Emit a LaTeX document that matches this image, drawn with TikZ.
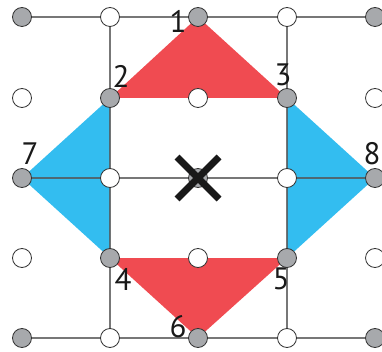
\documentclass[tikz,border=0pt]{standalone}
\usepackage{fontspec}
\setmainfont{PT Sans}
\usetikzlibrary{calc}
\definecolor{redfill}{HTML}{F04B51}
\definecolor{bluefill}{HTML}{33BDF0}
\definecolor{dotgray}{HTML}{A7A9AC}
\definecolor{gridline}{HTML}{555555}
\tikzset{
  gdot/.style={circle,draw=black!80,line width=0.8pt,fill=dotgray,minimum size=19pt,inner sep=0pt},
  wdot/.style={circle,draw=black!80,line width=0.8pt,fill=white,minimum size=19pt,inner sep=0pt},
  grid/.style={draw=gridline,line width=1.1pt},
  lbl/.style={font=\fontsize{31}{31}\selectfont,text=black!90,inner sep=0pt},
  crossline/.style={draw=black!90,line width=7pt},
}
\begin{document}
\begin{tikzpicture}[x=1pt,y=-1pt]
\useasboundingbox (0,0) rectangle (382,352);
% coordinates of grid points
\foreach \i/\y in {1/17,2/98,3/178,4/258,5/338}{
  \foreach \j/\x in {1/22,2/110,3/198,4/287,5/375}{
    \coordinate (p\i\j) at (\x,\y);
  }
}
% triangles
\fill[redfill] (p13) -- (p22) -- (p24) -- cycle;
\fill[redfill] (p42) -- (p44) -- (p53) -- cycle;
\fill[bluefill] (p31) -- (p22) -- (p42) -- cycle;
\fill[bluefill] (p35) -- (p24) -- (p44) -- cycle;
% grid lines
\draw[grid,opacity=0.8] (p11) -- (p15);
\draw[grid,opacity=0.8] (p31) -- (p35);
\draw[grid,opacity=0.8] (p51) -- (p55);
\draw[grid,opacity=0.8] (p12) -- (p52);
\draw[grid,opacity=0.8] (p14) -- (p54);
% dots
\foreach \i in {1,...,5}{
  \foreach \j in {1,...,5}{
    \pgfmathtruncatemacro{\parity}{mod(\i+\j,2)}
    \ifnum\parity=0
      \node[gdot] (d\i\j) at (p\i\j) {};
    \else
      \node[wdot] (d\i\j) at (p\i\j) {};
    \fi
  }
}
% cross
\coordinate (xa) at ($(p33)+(-21,-21)$);
\coordinate (xb) at ($(p33)+(21,21)$);
\coordinate (xc) at ($(p33)+(21,-21)$);
\coordinate (xd) at ($(p33)+(-21,21)$);
\draw[crossline] (xa) -- (xb);
\draw[crossline] (xc) -- (xd);
% labels
\node[lbl] (l1) at (178,21) {1};
\node[lbl] (l2) at (121,76) {2};
\node[lbl] (l3) at (283,75) {3};
\node[lbl] (l4) at (123,279) {4};
\node[lbl] (l5) at (281,279) {5};
\node[lbl] (l6) at (178,327) {6};
\node[lbl] (l7) at (30,154) {7};
\node[lbl] (l8) at (372,154) {8};
\end{tikzpicture}
\end{document}
